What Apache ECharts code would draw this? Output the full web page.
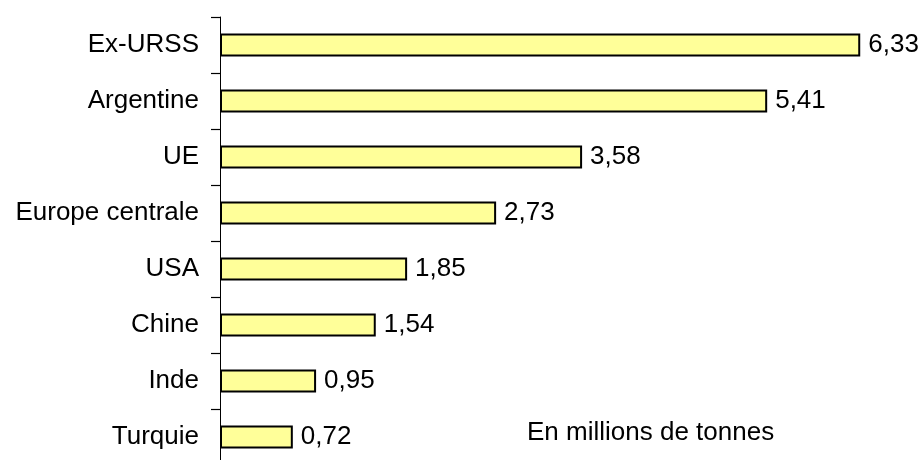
<!DOCTYPE html>
<html>
<head>
    <title>Production</title>
    <style>
        html, body {
            margin: 0;
            padding: 0;
            background: #ffffff;
        }

        #chart {
            width: 923px;
            height: 460px;
        }
    </style>
    <script src="https://cdn.jsdelivr.net/npm/echarts@6/dist/echarts.min.js"></script>
</head>
<body>
    <div id="chart"></div>

    <script>
        var categories = ['Ex-URSS', 'Argentine', 'UE', 'Europe centrale', 'USA', 'Chine', 'Inde', 'Turquie'];
        var values = [6.33, 5.41, 3.58, 2.73, 1.85, 1.54, 0.95, 0.72];
        var unitLabel = 'En millions de tonnes';

        var myChart = echarts.init(document.getElementById('chart'));

        var option = {
            animation: false,
            textStyle: {
                fontFamily: 'Liberation Sans, Arial, sans-serif'
            },
            grid: {
                left: 220,
                top: 17,
                width: 708,
                height: 448,
                containLabel: false,
                outerBoundsMode: 'none'
            },
            xAxis: {
                type: 'value',
                min: 0,
                max: 7,
                show: false
            },
            yAxis: {
                type: 'category',
                inverse: true,
                data: categories,
                axisLine: {
                    show: true,
                    lineStyle: { color: '#000000', width: 1 }
                },
                axisTick: {
                    show: true,
                    inside: false,
                    length: 9,
                    lineStyle: { color: '#000000', width: 1.2 }
                },
                axisLabel: {
                    interval: 0,
                    color: '#000000',
                    fontSize: 26,
                    margin: 21
                }
            },
            series: [{
                type: 'bar',
                data: values,
                barWidth: 23,
                itemStyle: {
                    color: '#ffff99',
                    borderColor: '#000000',
                    borderWidth: 2
                },
                label: {
                    show: true,
                    position: 'right',
                    distance: 8,
                    color: '#000000',
                    fontSize: 26,
                    formatter: function (p) {
                        return p.value.toFixed(2).replace('.', ',');
                    }
                }
            }],
            graphic: [{
                type: 'text',
                left: 527,
                top: 410,
                style: {
                    text: unitLabel,
                    fill: '#000000',
                    font: '26px Liberation Sans, Arial, sans-serif'
                }
            }]
        };

        myChart.setOption(option);
    </script>
</body>
</html>
